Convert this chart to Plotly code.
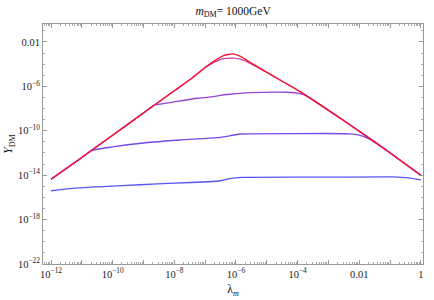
import plotly.graph_objects as go

# log10(lambda_m) and log10(Y_DM)
red_lx = [-12, -11, -10, -9, -8, -7.4, -7.0, -6.7, -6.4, -6.1, -5.85, -5.5, -4.57, -3.92, -2.53, -1.5, -0.68, 0]
red_ly = [-14.37, -12.4, -10.4, -8.4, -6.4, -5.2, -4.3, -3.7, -3.22, -3.08, -3.3, -3.9, -5.42, -6.47, -9.03, -11.0, -12.63, -14.0]

mag_lx = [-12, -11, -10, -9, -8, -7.4, -7.0, -6.7, -6.4, -6.1, -5.85, -5.5, -4.57, -3.92, -2.53, -1.5, -0.68, 0]
mag_ly = [-14.37, -12.4, -10.4, -8.4, -6.4, -5.2, -4.3, -3.82, -3.5, -3.45, -3.55, -3.97, -5.42, -6.47, -9.03, -11.0, -12.63, -14.0]

pur_lx = [-12, -11, -10, -9, -8.68, -8.0, -7.26, -6.8, -6.5, -6.19, -5.54, -4.34, -4.0, -3.8, -3.6, -2.53, -1.5, -0.68, 0]
pur_ly = [-14.37, -12.4, -10.4, -8.4, -7.72, -7.4, -7.07, -6.95, -6.8, -6.71, -6.57, -6.53, -6.6, -6.75, -7.04, -9.03, -11.0, -12.63, -14.0]

bpu_lx = [-12, -11, -10.68, -10.0, -9.0, -7.82, -6.62, -6.2, -5.87, -4.0, -2.3, -2.0, -1.7, -1.43, -0.68, 0]
bpu_ly = [-14.37, -12.4, -11.78, -11.45, -11.1, -10.83, -10.62, -10.45, -10.29, -10.25, -10.27, -10.4, -10.7, -11.15, -12.63, -14.0]

blu_lx = [-12, -11.3, -10, -9.1, -8, -6.9, -6.5, -6.2, -5.8, -3, -0.9, -0.4, 0]
blu_ly = [-15.4, -15.18, -14.98, -14.86, -14.72, -14.59, -14.5, -14.3, -14.2, -14.18, -14.16, -14.25, -14.43]

x_tick_exps = list(range(-12, 1))
x_tick_labels = ["10<sup>−12</sup>", "", "10<sup>−10</sup>", "", "10<sup>−8</sup>", "", "10<sup>−6</sup>", "",
                 "10<sup>−4</sup>", "", "0.01", "", "1"]
y_tick_exps = [-2, -6, -10, -14, -18, -22]
y_tick_labels = ["0.01", "10<sup>−6</sup>", "10<sup>−10</sup>", "10<sup>−14</sup>", "10<sup>−18</sup>", "10<sup>−22</sup>"]

series = [
    (blu_lx, blu_ly, "rgb(85,85,245)"),
    (bpu_lx, bpu_ly, "rgb(115,75,230)"),
    (pur_lx, pur_ly, "rgb(150,70,205)"),
    (mag_lx, mag_ly, "rgb(205,60,165)"),
    (red_lx, red_ly, "rgb(245,20,45)"),
]

fig = go.Figure()
for lx, ly, col in series:
    fig.add_trace(go.Scatter(
        x=[10.0 ** v for v in lx], y=[10.0 ** v for v in ly], mode="lines",
        line=dict(color=col, width=1.3, shape="spline", smoothing=0.5),
        showlegend=False, hoverinfo="skip"))

font = dict(family="Liberation Serif, Times New Roman, serif", size=10.5, color="#222")

x_minor = [k * 10.0 ** e for e in range(-13, 1) for k in range(2, 10)]
y_minor = [10.0 ** e for e in range(-22, 0)]

fig.update_layout(
    width=434, height=300,
    margin=dict(l=43, r=11, t=24, b=36),
    paper_bgcolor="white", plot_bgcolor="white",
    font=font,
    hovermode=False,
    title=dict(text="<i>m</i><sub>DM</sub>= 1000GeV", x=0.537, xanchor="center", y=0.965, yanchor="middle",
               font=dict(family="Liberation Serif, serif", size=11.5, color="#111")),
    xaxis=dict(type="log", range=[-12.26, 0.07], showgrid=False, zeroline=False, automargin=False,
               showline=True, linecolor="#999", linewidth=1, mirror="ticks",
               ticks="inside", ticklen=4, tickcolor="#999", tickwidth=1,
               tickmode="array", tickvals=[10.0 ** e for e in x_tick_exps], ticktext=x_tick_labels,
               tickfont=font, ticklabeloverflow="allow",
               minor=dict(tickmode="array", tickvals=x_minor, ticks="inside", ticklen=2, tickcolor="#aaa"),
               title=dict(text="λ<sub><i>m</i></sub>", font=dict(family="Liberation Serif, serif", size=11.5, color="#111"),
                          standoff=6)),
    yaxis=dict(type="log", range=[-22, -0.38], showgrid=False, zeroline=False, automargin=False,
               showline=True, linecolor="#999", linewidth=1, mirror="ticks",
               ticks="inside", ticklen=4, tickcolor="#999", tickwidth=1,
               tickmode="array", tickvals=[10.0 ** e for e in y_tick_exps], ticktext=y_tick_labels,
               tickfont=font,
               minor=dict(tickmode="array", tickvals=y_minor, ticks="inside", ticklen=2, tickcolor="#aaa"),
               title=dict(text="<i>Y</i><sub>DM</sub>", font=dict(family="Liberation Serif, serif", size=11.5, color="#111"),
                          standoff=2)),
)

fig.write_html("out.html", config={"displayModeBar": False, "staticPlot": True},
               post_script="document.body.style.margin='0';document.body.style.padding='0';")
